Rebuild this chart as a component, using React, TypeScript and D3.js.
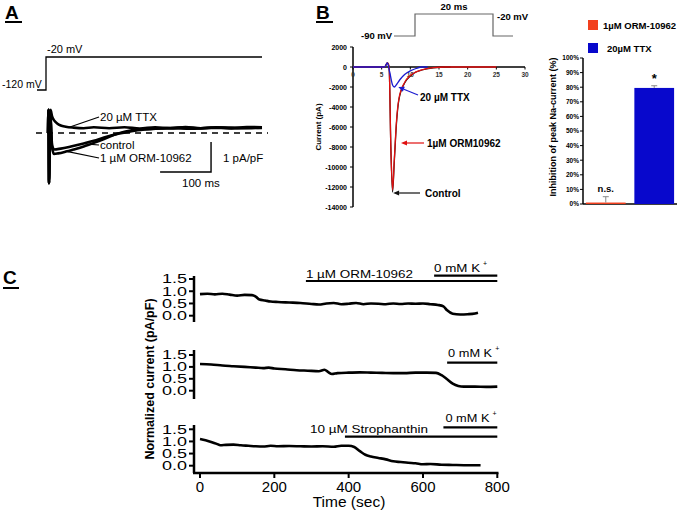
import React from "react";
import * as d3 from "d3";

const FONT = "Arial, 'Liberation Sans', Helvetica, sans-serif";

// ---------- Panel A data (time ms, current pA/pF) ----------
const aTtx: [number, number][] = [
  [0, 0], [1, 0.77], [2, -1.67], [4, 0.3], [5, 0.77], [8, 0.55], [12, 0.42], [18, 0.32], [25, 0.25],
  [35, 0.21], [50, 0.18], [70, 0.16], [90, 0.19], [120, 0.16], [150, 0.19], [180, 0.15], [210, 0.19],
  [240, 0.16], [270, 0.2], [300, 0.16], [330, 0.19], [360, 0.17], [390, 0.2], [420, 0.19],
];
const aControl: [number, number][] = [
  [0, 0], [1, 0.77], [2, -1.67], [4, 0.3], [5, 0.5], [8, -0.4], [12, -0.55], [25, -0.52], [45, -0.45],
  [70, -0.35], [90, -0.26], [110, -0.15], [140, -0.02], [170, 0.08], [200, 0.13], [240, 0.16],
  [280, 0.14], [320, 0.18], [360, 0.15], [400, 0.18], [420, 0.17],
];
const aOrm: [number, number][] = [
  [0, 0], [1, 0.77], [2, -1.67], [4, 0.2], [5, 0.4], [8, -0.5], [12, -0.7], [20, -0.68], [35, -0.62],
  [50, -0.55], [70, -0.45], [90, -0.33], [110, -0.2], [130, -0.06], [150, 0.04], [180, 0.12],
  [220, 0.15], [260, 0.18], [300, 0.15], [340, 0.18], [380, 0.16], [420, 0.18],
];
const aLabels = ["20 µM TTX", "control", "1 µM ORM-10962"];

// ---------- Panel B data (time ms, current pA) ----------
const bControl: [number, number][] = [
  [0, 0], [5.5, 0], [6, 400], [6.3, 0], [6.6, -8000], [6.9, -12500], [7.2, -9500], [7.6, -5500],
  [8, -3300], [9, -1600], [10, -900], [11, -500], [12, -300], [14, -80], [16, 0], [17, 0],
];
const bOrm: [number, number][] = [
  [0, 0], [5.5, 0], [6, 400], [6.3, 0], [6.6, -8000], [6.9, -12300], [7.2, -9300], [7.6, -5300],
  [8, -3200], [9, -1550], [10, -850], [11, -480], [12, -280], [14, -70], [16, 0], [25, 0],
];
const bTtx: [number, number][] = [
  [0, 0], [5.5, 0], [6, 400], [6.4, -500], [6.9, -1800], [7.2, -2000], [7.6, -1750], [8.2, -1250],
  [9, -750], [10, -380], [11, -150], [12, 0], [13, 0],
];
const bYTicks = [2000, 0, -2000, -4000, -6000, -8000, -10000, -12000, -14000];
const bXTicks = [0, 5, 10, 15, 20, 25, 30];

// Bar chart
const barLabels = ["1µM ORM-10962", "20µM TTX"];
const barValues = [1, 79.5];
const barErrors = [4, 1.5];
const barSig = ["n.s.", "*"];
const barColors = ["#f2401e", "#0808cc"];
const barTicks = [0, 10, 20, 30, 40, 50, 60, 70, 80, 90, 100];

// ---------- Panel C data (time s, normalized current) ----------
const c1: [number, number][] = [
  [0, 0.88], [20, 0.9], [40, 0.87], [60, 0.9], [80, 0.86], [100, 0.82], [120, 0.85], [140, 0.84],
  [150, 0.78], [160, 0.66], [175, 0.62], [190, 0.58], [210, 0.56], [240, 0.54], [270, 0.52],
  [300, 0.48], [320, 0.46], [340, 0.5], [360, 0.52], [380, 0.47], [400, 0.49], [420, 0.52],
  [440, 0.47], [460, 0.5], [480, 0.49], [500, 0.47], [520, 0.5], [540, 0.48], [560, 0.5],
  [580, 0.49], [600, 0.5], [620, 0.47], [640, 0.44], [655, 0.38], [665, 0.22], [680, 0.08],
  [700, 0.05], [720, 0.06], [740, 0.09], [748, 0.12],
];
const c2: [number, number][] = [
  [0, 1.12], [30, 1.1], [60, 1.06], [90, 1.03], [120, 1.0], [150, 0.97], [170, 0.95], [185, 0.97],
  [200, 0.93], [230, 0.9], [260, 0.86], [290, 0.84], [320, 0.82], [335, 0.88], [345, 0.78],
  [355, 0.7], [370, 0.74], [400, 0.76], [430, 0.77], [460, 0.76], [490, 0.75], [520, 0.74],
  [550, 0.74], [580, 0.76], [610, 0.76], [635, 0.75], [650, 0.65], [665, 0.48], [680, 0.3],
  [695, 0.2], [710, 0.17], [740, 0.17], [770, 0.16], [800, 0.17],
];
const c3: [number, number][] = [
  [0, 1.1], [15, 1.05], [30, 0.98], [45, 0.9], [55, 0.84], [70, 0.86], [90, 0.87], [110, 0.84],
  [130, 0.82], [150, 0.8], [170, 0.79], [190, 0.82], [210, 0.8], [240, 0.81], [270, 0.8],
  [300, 0.79], [330, 0.8], [360, 0.78], [380, 0.82], [400, 0.82], [415, 0.77], [430, 0.6],
  [445, 0.45], [460, 0.38], [480, 0.32], [500, 0.26], [520, 0.18], [540, 0.15], [560, 0.12],
  [580, 0.1], [600, 0.06], [620, 0.07], [650, 0.04], [680, 0.03], [710, 0.02], [740, 0.02], [755, 0.02],
];
const cYTicks = [0, 0.5, 1.0, 1.5];
const cXTicks = [0, 200, 400, 600, 800];
// treatment periods [start, end] in seconds
const cOrmPeriod = [285, 800];
const cK1Period = [630, 800];
const cK2Period = [665, 800];
const cK3Period = [655, 800];
const cStroPeriod = [390, 800];

function Arrow({ x1, y1, x2, y2, color }: { x1: number; y1: number; x2: number; y2: number; color: string }) {
  const ang = Math.atan2(y2 - y1, x2 - x1);
  const L = 6, W = 2.6;
  const bx = x2 - L * Math.cos(ang), by = y2 - L * Math.sin(ang);
  const p = [
    [x2, y2],
    [bx + W * Math.sin(ang), by - W * Math.cos(ang)],
    [bx - W * Math.sin(ang), by + W * Math.cos(ang)],
  ];
  return (
    <g>
      <line x1={x1} y1={y1} x2={bx} y2={by} stroke={color} strokeWidth={1.2} />
      <polygon points={p.map((q) => q.join(",")).join(" ")} fill={color} />
    </g>
  );
}

export default function App() {
  // Panel A
  const aX = d3.scaleLinear([0, 420], [48, 262]);
  const aY = d3.scaleLinear([0, 1], [133, 103]);
  const aPath = d3.line<[number, number]>().x((d) => aX(d[0])).y((d) => aY(d[1])).curve(d3.curveMonotoneX);

  // Panel B
  const bX = d3.scaleLinear([0, 30], [353, 525]);
  const bY = d3.scaleLinear([-14000, 2000], [207, 47]);
  const bPath = d3.line<[number, number]>().x((d) => bX(d[0])).y((d) => bY(d[1])).curve(d3.curveMonotoneX);

  const barX = d3.scaleBand<string>().domain(barLabels).range([583, 677]).paddingInner(0.18).paddingOuter(0.06);
  const barY = d3.scaleLinear([0, 100], [204, 58]);

  // Panel C
  const cX = d3.scaleLinear([0, 800], [200, 497.3]);
  const cY1 = d3.scaleLinear([0, 1.5], [315.7, 279]);
  const cY2 = d3.scaleLinear([0, 1.5], [390.7, 355]);
  const cY3 = d3.scaleLinear([0, 1.5], [465.7, 429.3]);
  const cSub = [
    { data: c1, y: cY1, top: 276, bottom: 322 },
    { data: c2, y: cY2, top: 350, bottom: 399 },
    { data: c3, y: cY3, top: 425, bottom: 473 },
  ];

  const aTraces = [aTtx, aControl, aOrm];
  const bTraces = [
    { d: bControl, c: "#111" },
    { d: bOrm, c: "#e01010" },
    { d: bTtx, c: "#1a1ad0" },
  ];

  return (
    <svg
      width={682}
      height={512}
      style={{ position: "absolute", left: 0, top: 0, background: "#fff", fontFamily: FONT }}
    >
      <rect x={0} y={0} width={682} height={512} fill="#fff" />
      {/* ================= Panel A ================= */}
      <text x={5} y={19} fontSize={19} fontWeight="bold">A</text>
      <line x1={5} y1={22} x2={22} y2={22} stroke="#000" strokeWidth={2} />
      {/* voltage protocol */}
      <polyline points="37,90 46,90 46,57 262,57" fill="none" stroke="#000" strokeWidth={1.3} />
      <text x={47} y={53} fontSize={11}>-20 mV</text>
      <text x={2} y={88} fontSize={10.5}>-120 mV</text>
      {/* baseline dashed */}
      <line x1={36} y1={aY(0)} x2={268} y2={aY(0)} stroke="#000" strokeWidth={1.6} strokeDasharray="6,5" />
      {aTraces.map((t, i) => (
        <path key={i} d={aPath(t) || ""} fill="none" stroke="#000" strokeWidth={2.6} strokeLinejoin="round" />
      ))}
      {/* leader lines */}
      <line x1={aX(43)} y1={aY(0.2)} x2={99} y2={117} stroke="#000" strokeWidth={1.2} />
      <line x1={aX(72)} y1={aY(-0.36)} x2={99} y2={145} stroke="#000" strokeWidth={1.2} />
      <line x1={aX(39)} y1={aY(-0.62)} x2={99} y2={158} stroke="#000" strokeWidth={1.2} />
      <text x={100} y={121} fontSize={11.5}>{aLabels[0]}</text>
      <text x={100} y={149} fontSize={11.5}>{aLabels[1]}</text>
      <text x={100} y={162} fontSize={11.5}>{aLabels[2]}</text>
      {/* scale bar */}
      <polyline
        points={`${aX(220)},${aY(-1.3)} ${aX(320)},${aY(-1.3)} ${aX(320)},${aY(-0.3)}`}
        fill="none"
        stroke="#000"
        strokeWidth={1.4}
      />
      <text x={223} y={162} fontSize={11.5}>1 pA/pF</text>
      <text x={182} y={187} fontSize={11.5}>100 ms</text>

      {/* ================= Panel B ================= */}
      <text x={316} y={19} fontSize={19} fontWeight="bold">B</text>
      <line x1={316} y1={22} x2={333} y2={22} stroke="#000" strokeWidth={2} />
      <polyline points="394,36 415,36 415,14 493,14 493,36 513,36" fill="none" stroke="#666" strokeWidth={1.2} />
      <text x={361} y={39} fontSize={9.5} fontWeight="bold">-90 mV</text>
      <text x={454} y={10} fontSize={9.5} fontWeight="bold" textAnchor="middle">20 ms</text>
      <text x={497} y={20} fontSize={9.5} fontWeight="bold">-20 mV</text>
      {/* axes */}
      <line x1={bX(0)} y1={bY(2000)} x2={bX(0)} y2={bY(-14000)} stroke="#000" strokeWidth={1.5} />
      <line x1={bX(0)} y1={bY(0)} x2={bX(30)} y2={bY(0)} stroke="#000" strokeWidth={1.5} />
      {bYTicks.map((v) => (
        <g key={v}>
          <line x1={bX(0) - 3} y1={bY(v)} x2={bX(0)} y2={bY(v)} stroke="#000" strokeWidth={1} />
          <text x={bX(0) - 6} y={bY(v) + 2.5} fontSize={7} fontWeight="bold" textAnchor="end">{v}</text>
        </g>
      ))}
      {bXTicks.map((v) => (
        <g key={v}>
          <line x1={bX(v)} y1={bY(0)} x2={bX(v)} y2={bY(0) + 2.5} stroke="#000" strokeWidth={1} />
          <text x={bX(v)} y={bY(0) + 10} fontSize={6.5} fontWeight="bold" textAnchor="middle" fill="#333">{v}</text>
        </g>
      ))}
      <text
        transform={`translate(321,${127}) rotate(-90)`}
        fontSize={8}
        textAnchor="middle"
        fontWeight="bold"
      >
        Current (pA)
      </text>
      {bTraces.map((t, i) => (
        <path key={i} d={bPath(t.d) || ""} fill="none" stroke={t.c} strokeWidth={1.3} />
      ))}
      <Arrow x1={418} y1={95} x2={bX(7.9)} y2={bY(-2000)} color="#1a1ad0" />
      <text x={420} y={101} fontSize={10} fontWeight="bold">20 µM TTX</text>
      <Arrow x1={424} y1={143} x2={401} y2={143} color="#e01010" />
      <text x={427} y={147} fontSize={10} fontWeight="bold">1µM ORM10962</text>
      <Arrow x1={420} y1={193} x2={bX(7.0)} y2={193} color="#111" />
      <text x={425} y={197} fontSize={10} fontWeight="bold">Control</text>

      {/* bar chart */}
      {barLabels.map((l, i) => (
        <g key={l}>
          <rect x={588} y={20 + i * 23} width={10} height={10} fill={barColors[i]} />
          <text x={603 + i * 4} y={28.5 + i * 23} fontSize={9.5} fontWeight="bold">{l}</text>
        </g>
      ))}
      <line x1={583} y1={barY(100)} x2={583} y2={barY(0)} stroke="#000" strokeWidth={1.5} />
      <line x1={583} y1={barY(0)} x2={677} y2={barY(0)} stroke="#000" strokeWidth={1.5} />
      {barTicks.map((v) => (
        <g key={v}>
          <line x1={580} y1={barY(v)} x2={583} y2={barY(v)} stroke="#000" strokeWidth={1} />
          <text x={579} y={barY(v) + 2.3} fontSize={6.5} fontWeight="bold" textAnchor="end">{v}%</text>
        </g>
      ))}
      <text transform={`translate(556,127) rotate(-90)`} fontSize={9} fontWeight="bold" textAnchor="middle">
        Inhibition of peak Na-current (%)
      </text>
      {barLabels.map((l, i) => {
        const x = barX(l) as number;
        const w = barX.bandwidth();
        const cx = x + w / 2;
        return (
          <g key={l}>
            <rect x={x} y={barY(barValues[i])} width={w} height={barY(0) - barY(barValues[i])} fill={barColors[i]} />
            <line x1={cx} y1={barY(barValues[i])} x2={cx} y2={barY(barValues[i] + barErrors[i])} stroke="#888" strokeWidth={1} />
            <line x1={cx - 3} y1={barY(barValues[i] + barErrors[i])} x2={cx + 3} y2={barY(barValues[i] + barErrors[i])} stroke="#888" strokeWidth={1} />
            <text
              x={cx}
              y={barY(barValues[i] + barErrors[i]) - (i === 0 ? 5 : 3)}
              fontSize={i === 0 ? 9.5 : 13}
              fontWeight="bold"
              textAnchor="middle"
            >
              {barSig[i]}
            </text>
          </g>
        );
      })}

      {/* ================= Panel C ================= */}
      <text x={3} y={284} fontSize={19} fontWeight="bold">C</text>
      <line x1={3} y1={288} x2={19} y2={288} stroke="#000" strokeWidth={2} />
      {cSub.map((s, k) => {
        const line = d3.line<[number, number]>().x((d) => cX(d[0])).y((d) => s.y(d[1])).curve(d3.curveMonotoneX);
        return (
          <g key={k}>
            <line x1={194} y1={s.top} x2={194} y2={s.bottom} stroke="#000" strokeWidth={2.5} />
            {cYTicks.map((v) => (
              <g key={v}>
                <line x1={189} y1={s.y(v)} x2={194} y2={s.y(v)} stroke="#000" strokeWidth={2} />
                <text x={162} y={s.y(v) + 4.3} fontSize={12} textLength={25} lengthAdjust="spacingAndGlyphs">
                  {v.toFixed(1)}
                </text>
              </g>
            ))}
            <path d={line(s.data) || ""} fill="none" stroke="#000" strokeWidth={2.6} strokeLinejoin="round" />
          </g>
        );
      })}
      {/* x axis */}
      <line x1={193} y1={473} x2={498.5} y2={473} stroke="#000" strokeWidth={2.5} />
      {cXTicks.map((v) => (
        <g key={v}>
          <line x1={cX(v)} y1={473} x2={cX(v)} y2={478} stroke="#000" strokeWidth={2} />
          <text x={cX(v)} y={492} fontSize={15} textAnchor="middle">{v}</text>
        </g>
      ))}
      <text x={349} y={507} fontSize={15.5} textAnchor="middle">Time (sec)</text>
      <text transform="translate(154,379) rotate(-90)" fontSize={12.5} fontWeight="bold" textAnchor="middle">
        Normalized current (pA/pF)
      </text>
      {/* annotations */}
      <text x={cX(cOrmPeriod[0])} y={278} fontSize={11.5} textLength={107} lengthAdjust="spacingAndGlyphs">1 µM ORM-10962</text>
      <line x1={cX(cOrmPeriod[0])} y1={281} x2={cX(cOrmPeriod[1])} y2={281} stroke="#000" strokeWidth={2.2} />
      <text x={cX(cK1Period[0])} y={272} fontSize={11.5} textLength={46} lengthAdjust="spacingAndGlyphs">0 mM K</text>
      <text x={cX(cK1Period[0]) + 49} y={266} fontSize={7}>+</text>
      <line x1={cX(cK1Period[0])} y1={275.7} x2={cX(cK1Period[1])} y2={275.7} stroke="#000" strokeWidth={2.2} />

      <text x={cX(cK2Period[0]) + 1} y={357} fontSize={11.5} textLength={44} lengthAdjust="spacingAndGlyphs">0 mM K</text>
      <text x={cX(cK2Period[0]) + 48} y={351} fontSize={7}>+</text>
      <line x1={cX(cK2Period[0])} y1={362.7} x2={cX(cK2Period[1])} y2={362.7} stroke="#000" strokeWidth={2.2} />

      <text x={cX(cK3Period[0]) + 2} y={422} fontSize={11.5} textLength={44} lengthAdjust="spacingAndGlyphs">0 mM K</text>
      <text x={cX(cK3Period[0]) + 49} y={416} fontSize={7}>+</text>
      <line x1={cX(cK3Period[0])} y1={427.3} x2={cX(cK3Period[1])} y2={427.3} stroke="#000" strokeWidth={2.2} />
      <text x={310} y={433} fontSize={11.5} textLength={118} lengthAdjust="spacingAndGlyphs">10 µM Strophanthin</text>
      <line x1={cX(cStroPeriod[0])} y1={436.7} x2={cX(cStroPeriod[1])} y2={436.7} stroke="#000" strokeWidth={2.2} />
    </svg>
  );
}
